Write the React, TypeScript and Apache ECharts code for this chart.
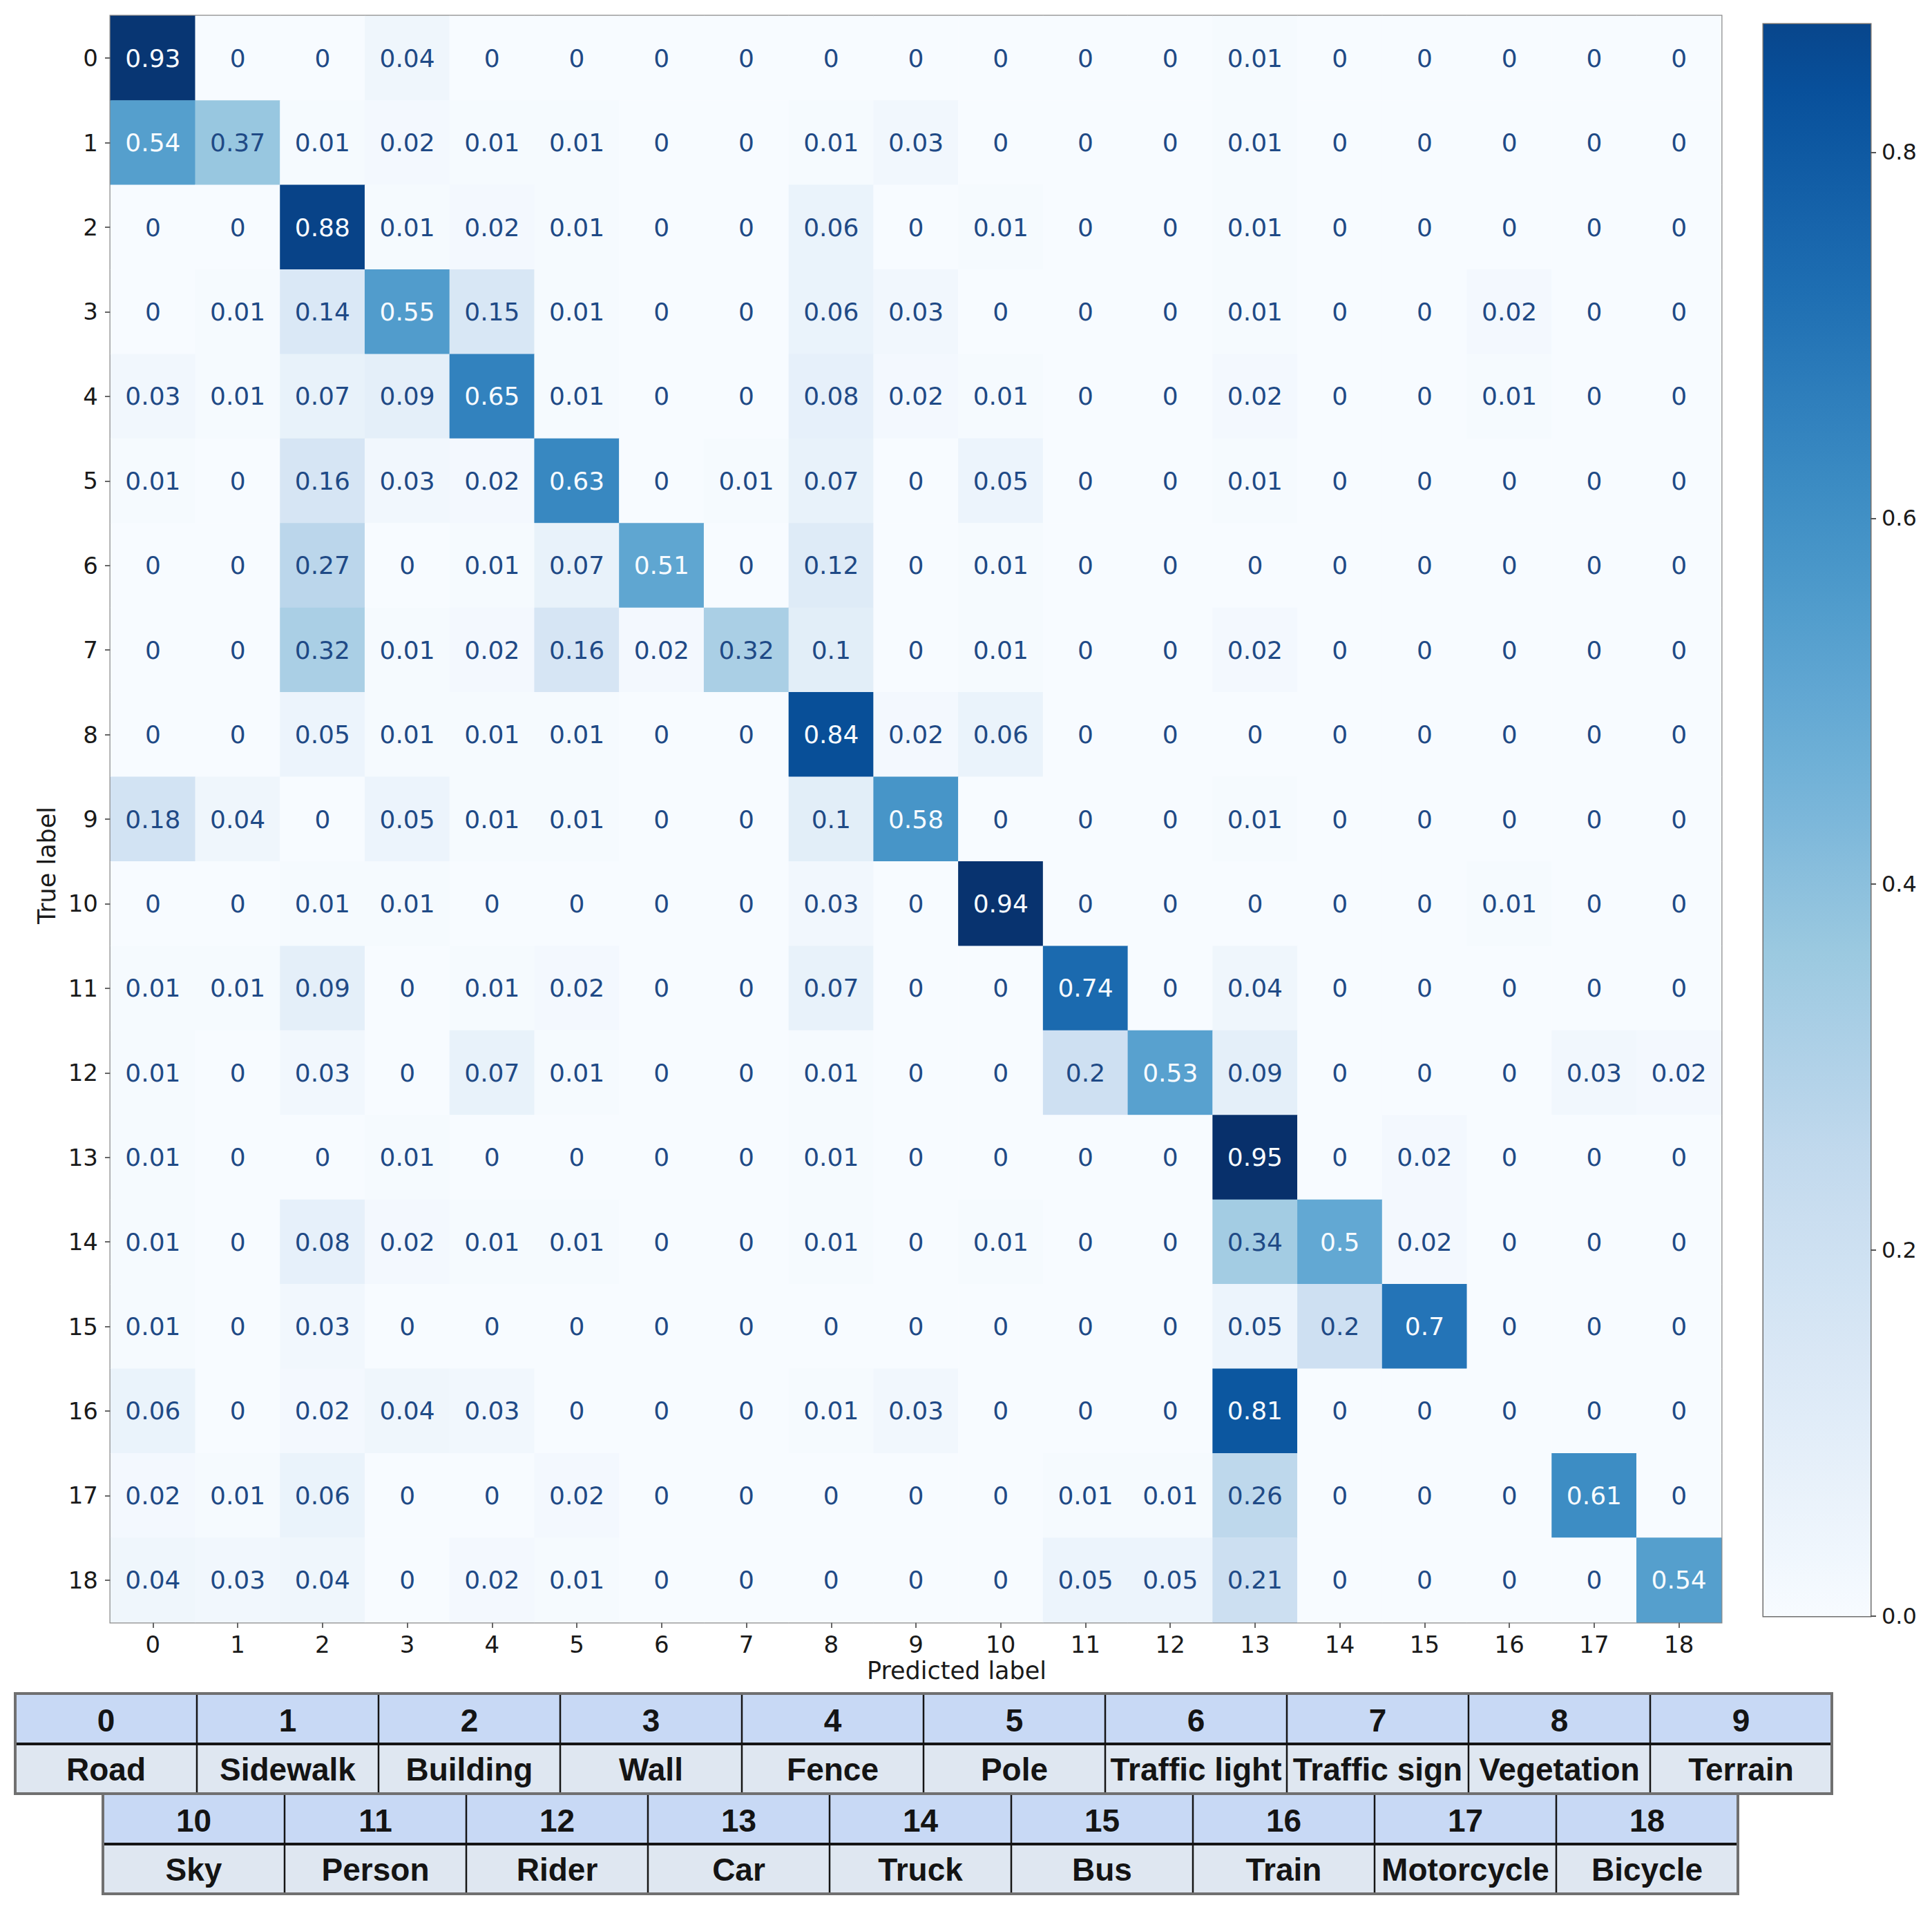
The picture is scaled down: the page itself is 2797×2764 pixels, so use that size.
import React, { useEffect, useRef } from 'react';
import * as echarts from 'echarts';

// ---------------- data ----------------
const TICK_LABELS = ['0','1','2','3','4','5','6','7','8','9','10','11','12','13','14','15','16','17','18'];
const CLASS_NAMES = ['Road','Sidewalk','Building','Wall','Fence','Pole','Traffic light','Traffic sign','Vegetation','Terrain','Sky','Person','Rider','Car','Truck','Bus','Train','Motorcycle','Bicycle'];
const TABLE_ROW_1 = [0,1,2,3,4,5,6,7,8,9];
const TABLE_ROW_2 = [10,11,12,13,14,15,16,17,18];

const ROW_0  = [0.93,0,0,0.04,0,0,0,0,0,0,0,0,0,0.01,0,0,0,0,0];
const ROW_1  = [0.54,0.37,0.01,0.02,0.01,0.01,0,0,0.01,0.03,0,0,0,0.01,0,0,0,0,0];
const ROW_2  = [0,0,0.88,0.01,0.02,0.01,0,0,0.06,0,0.01,0,0,0.01,0,0,0,0,0];
const ROW_3  = [0,0.01,0.14,0.55,0.15,0.01,0,0,0.06,0.03,0,0,0,0.01,0,0,0.02,0,0];
const ROW_4  = [0.03,0.01,0.07,0.09,0.65,0.01,0,0,0.08,0.02,0.01,0,0,0.02,0,0,0.01,0,0];
const ROW_5  = [0.01,0,0.16,0.03,0.02,0.63,0,0.01,0.07,0,0.05,0,0,0.01,0,0,0,0,0];
const ROW_6  = [0,0,0.27,0,0.01,0.07,0.51,0,0.12,0,0.01,0,0,0,0,0,0,0,0];
const ROW_7  = [0,0,0.32,0.01,0.02,0.16,0.02,0.32,0.1,0,0.01,0,0,0.02,0,0,0,0,0];
const ROW_8  = [0,0,0.05,0.01,0.01,0.01,0,0,0.84,0.02,0.06,0,0,0,0,0,0,0,0];
const ROW_9  = [0.18,0.04,0,0.05,0.01,0.01,0,0,0.1,0.58,0,0,0,0.01,0,0,0,0,0];
const ROW_10 = [0,0,0.01,0.01,0,0,0,0,0.03,0,0.94,0,0,0,0,0,0.01,0,0];
const ROW_11 = [0.01,0.01,0.09,0,0.01,0.02,0,0,0.07,0,0,0.74,0,0.04,0,0,0,0,0];
const ROW_12 = [0.01,0,0.03,0,0.07,0.01,0,0,0.01,0,0,0.2,0.53,0.09,0,0,0,0.03,0.02];
const ROW_13 = [0.01,0,0,0.01,0,0,0,0,0.01,0,0,0,0,0.95,0,0.02,0,0,0];
const ROW_14 = [0.01,0,0.08,0.02,0.01,0.01,0,0,0.01,0,0.01,0,0,0.34,0.5,0.02,0,0,0];
const ROW_15 = [0.01,0,0.03,0,0,0,0,0,0,0,0,0,0,0.05,0.2,0.7,0,0,0];
const ROW_16 = [0.06,0,0.02,0.04,0.03,0,0,0,0.01,0.03,0,0,0,0.81,0,0,0,0,0];
const ROW_17 = [0.02,0.01,0.06,0,0,0.02,0,0,0,0,0,0.01,0.01,0.26,0,0,0,0.61,0];
const ROW_18 = [0.04,0.03,0.04,0,0.02,0.01,0,0,0,0,0,0.05,0.05,0.21,0,0,0,0,0.54];
const MATRIX = [ROW_0,ROW_1,ROW_2,ROW_3,ROW_4,ROW_5,ROW_6,ROW_7,ROW_8,ROW_9,ROW_10,ROW_11,ROW_12,ROW_13,ROW_14,ROW_15,ROW_16,ROW_17,ROW_18];

const COLOR_MIN = 0;
const COLOR_MAX = 0.95;
const COLORBAR_MAX = 0.87;
const COLORBAR_TICKS = [0, 0.2, 0.4, 0.6, 0.8];

// ---------------- styles / layout ----------------
const W = 2797;
const H = 2764;
const BLUES = ['#f7fbff','#deebf7','#c6dbef','#9ecae1','#6baed6','#4292c6','#2171b5','#08519c','#08306b'];
const FONT = '"DejaVu Sans", Verdana, sans-serif';
const TABLE_FONT = '"Liberation Sans", Arial, sans-serif';
const GRID = { left: 160, top: 23, width: 2332, height: 2326 };
const CB = { left: 2553, top: 35, width: 155, height: 2305 };
const TBL = { colW: 263, headH: 73, nameH: 72, r1x: 22, r1y: 2452, r2x: 149, r2y: 2597 };
const HEAD_FILL = '#c8d9f5';
const NAME_FILL = '#dfe7f1';

function hexToRgb(h: string) {
  return [parseInt(h.slice(1, 3), 16), parseInt(h.slice(3, 5), 16), parseInt(h.slice(5, 7), 16)];
}
function bluesAt(t: number) {
  const p = Math.max(0, Math.min(1, t)) * (BLUES.length - 1);
  const i = Math.min(BLUES.length - 2, Math.floor(p));
  const f = p - i;
  const a = hexToRgb(BLUES[i]);
  const b = hexToRgb(BLUES[i + 1]);
  const c = a.map((v, k) => Math.round(v + (b[k] - v) * f));
  return `rgb(${c[0]},${c[1]},${c[2]})`;
}

function tableRow(ids: number[], x0: number, y0: number) {
  const els: any[] = [];
  const n = ids.length;
  const { colW, headH, nameH } = TBL;
  ids.forEach((id, i) => {
    const x = x0 + i * colW;
    els.push({ type: 'rect', silent: true, shape: { x, y: y0, width: colW, height: headH }, style: { fill: HEAD_FILL } });
    els.push({ type: 'rect', silent: true, shape: { x, y: y0 + headH, width: colW, height: nameH }, style: { fill: NAME_FILL } });
  });
  for (let i = 1; i < n; i++) {
    const x = x0 + i * colW;
    els.push({ type: 'line', silent: true, shape: { x1: x, y1: y0, x2: x, y2: y0 + headH + nameH }, style: { stroke: '#151515', lineWidth: 2.5 } });
  }
  els.push({ type: 'line', silent: true, shape: { x1: x0, y1: y0 + headH, x2: x0 + n * colW, y2: y0 + headH }, style: { stroke: '#151515', lineWidth: 4 } });
  els.push({ type: 'rect', silent: true, shape: { x: x0, y: y0, width: n * colW, height: headH + nameH }, style: { fill: 'none', stroke: '#707070', lineWidth: 4 } });
  ids.forEach((id, i) => {
    const cx = x0 + i * colW + colW / 2;
    els.push({
      type: 'text', silent: true, x: cx, y: y0 + headH / 2 + 2,
      style: { text: TICK_LABELS[id], fill: '#141414', fontSize: 46, fontWeight: 'bold', fontFamily: TABLE_FONT,
        align: 'center', verticalAlign: 'middle', textAlign: 'center', textVerticalAlign: 'middle' },
    });
    els.push({
      type: 'text', silent: true, x: cx, y: y0 + headH + nameH / 2 + 1,
      style: { text: CLASS_NAMES[id], fill: '#141414', fontSize: 46, fontWeight: 'bold', fontFamily: TABLE_FONT,
        align: 'center', verticalAlign: 'middle', textAlign: 'center', textVerticalAlign: 'middle' },
    });
  });
  return els;
}

export default function App() {
  const ref = useRef<HTMLDivElement>(null);
  useEffect(() => {
    document.body.style.margin = '0';
    if (!ref.current) return;
    const chart = echarts.init(ref.current, undefined, { renderer: 'svg' });
    const thresh = (COLOR_MAX + COLOR_MIN) / 2;
    const heatData: any[] = [];
    MATRIX.forEach((row, r) =>
      row.forEach((v, c) =>
        heatData.push({ value: [c, r, v], label: { color: v >= thresh ? '#f7fbff' : '#1f4a86' } })
      )
    );
    const nStops = 24;
    const stops = [];
    for (let k = 0; k <= nStops; k++) {
      const o = k / nStops;
      stops.push({ offset: o, color: bluesAt((o * COLORBAR_MAX - COLOR_MIN) / (COLOR_MAX - COLOR_MIN)) });
    }
    const cbGradient = new echarts.graphic.LinearGradient(0, 1, 0, 0, stops);

    const axisLabelStyle = { fontSize: 34, color: '#1a1a1a', fontFamily: FONT };
    const option: any = {
      animation: false,
      backgroundColor: '#ffffff',
      grid: [
        { ...GRID, show: true, borderColor: '#8a8a8a', borderWidth: 3, backgroundColor: 'transparent', containLabel: false, outerBoundsMode: 'none' },
        { ...CB, show: true, borderColor: '#6e6e6e', borderWidth: 3, backgroundColor: 'transparent', containLabel: false, outerBoundsMode: 'none' },
      ],
      xAxis: [
        {
          gridIndex: 0, type: 'category', data: TICK_LABELS, position: 'bottom',
          axisLine: { show: false },
          axisTick: { show: true, alignWithLabel: true, length: 8, lineStyle: { color: '#666', width: 2 } },
          axisLabel: { ...axisLabelStyle, margin: 15 },
          splitLine: { show: false }, splitArea: { show: false },
        },
        { gridIndex: 1, type: 'category', data: [''], show: false },
      ],
      yAxis: [
        {
          gridIndex: 0, type: 'category', data: TICK_LABELS, inverse: true,
          axisLine: { show: false },
          axisTick: { show: true, alignWithLabel: true, length: 8, lineStyle: { color: '#666', width: 2 } },
          axisLabel: { ...axisLabelStyle, margin: 18 },
          splitLine: { show: false }, splitArea: { show: false },
        },
        {
          gridIndex: 1, type: 'value', min: 0, max: COLORBAR_MAX, interval: 0.2, position: 'right',
          axisLine: { show: false },
          axisTick: { show: true, length: 8, customValues: COLORBAR_TICKS, lineStyle: { color: '#555', width: 2 } },
          axisLabel: { fontSize: 32, color: '#1a1a1a', fontFamily: FONT, margin: 16, customValues: COLORBAR_TICKS,
            formatter: (v: number) => v.toFixed(1) },
          splitLine: { show: false },
        },
      ],
      visualMap: [
        {
          type: 'continuous', show: false, seriesIndex: 0, dimension: 2,
          min: COLOR_MIN, max: COLOR_MAX, inRange: { color: BLUES },
        },
      ],
      series: [
        {
          type: 'heatmap', xAxisIndex: 0, yAxisIndex: 0, data: heatData,
          label: {
            show: true, fontSize: 36, fontFamily: FONT, textBorderWidth: 0,
            formatter: (p: any) => String(p.value[2]),
          },
          itemStyle: { borderWidth: 0 },
          emphasis: { disabled: true },
          silent: true,
        },
        {
          type: 'bar', xAxisIndex: 1, yAxisIndex: 1, data: [COLORBAR_MAX], barWidth: '100%',
          itemStyle: { color: cbGradient }, silent: true,
        },
      ],
      graphic: [
        {
          type: 'text', silent: true, x: 1385, y: 2419,
          style: { text: 'Predicted label', fill: '#1a1a1a', fontSize: 35, fontFamily: FONT,
            align: 'center', verticalAlign: 'middle', textAlign: 'center', textVerticalAlign: 'middle' },
        },
        {
          type: 'text', silent: true, x: 68, y: 1253, rotation: Math.PI / 2,
          style: { text: 'True label', fill: '#1a1a1a', fontSize: 35, fontFamily: FONT,
            align: 'center', verticalAlign: 'middle', textAlign: 'center', textVerticalAlign: 'middle' },
        },
        ...tableRow(TABLE_ROW_1, TBL.r1x, TBL.r1y),
        ...tableRow(TABLE_ROW_2, TBL.r2x, TBL.r2y),
      ],
    };
    chart.setOption(option);
    return () => chart.dispose();
  }, []);
  return <div ref={ref} style={{ width: W, height: H }} />;
}
